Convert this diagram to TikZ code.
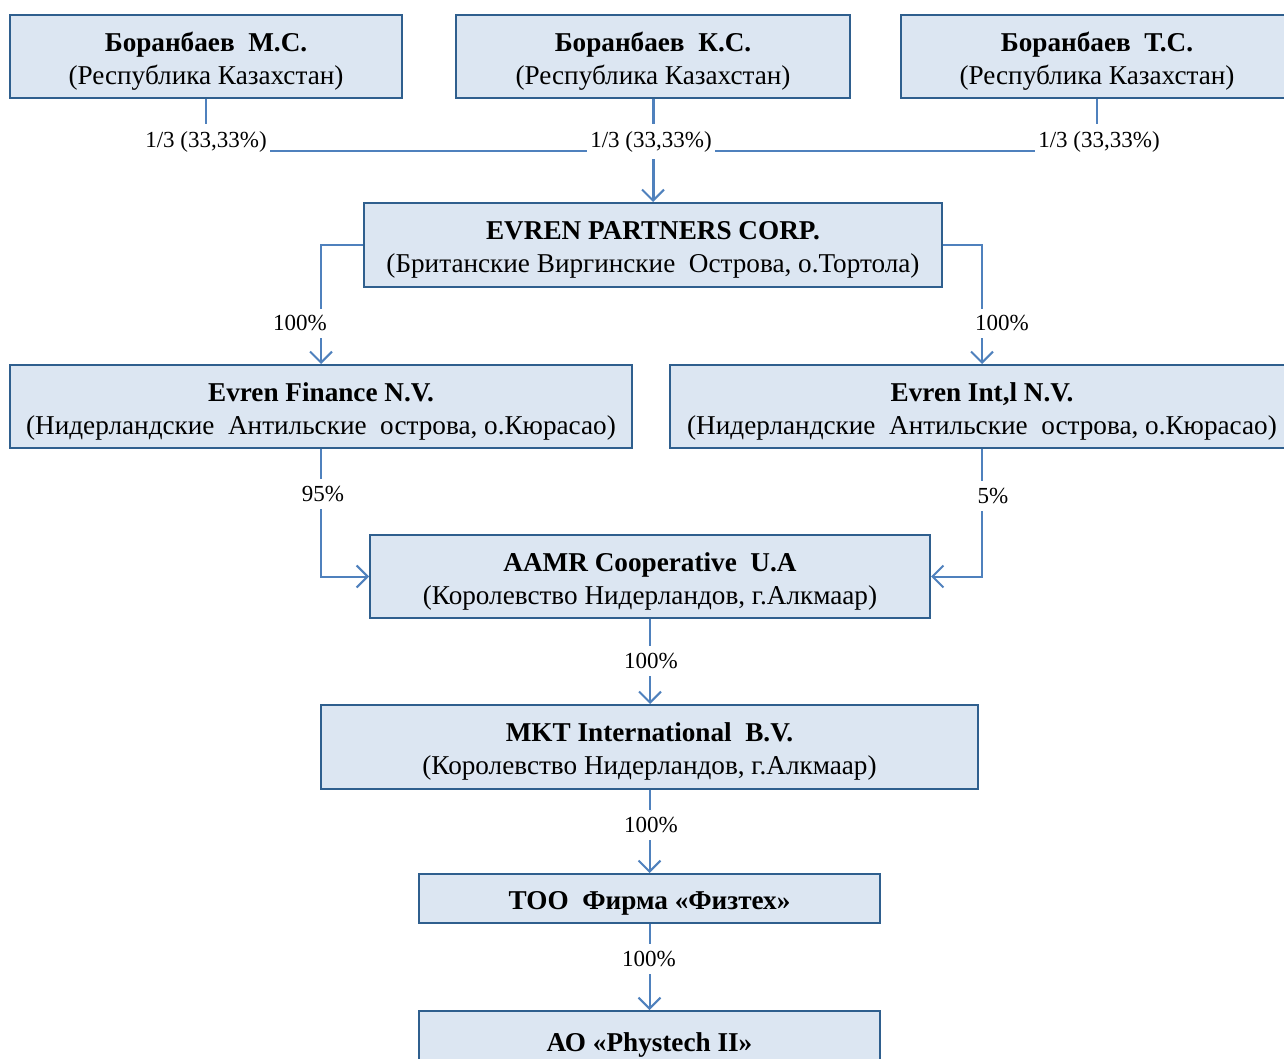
\documentclass[tikz,border=0pt]{standalone}
\usepackage{fontspec}
\setmainfont{Liberation Serif}
\usetikzlibrary{arrows.meta}
\definecolor{boxfill}{HTML}{DCE6F2}
\definecolor{boxline}{HTML}{2F5F8E}
\definecolor{connc}{HTML}{4F81BD}
\newcommand{\upstrut}{\rule{0pt}{28pt}}
\begin{document}
\begin{tikzpicture}[x=1pt,y=-1pt,
  orgbox/.style={draw=boxline, line width=2pt, fill=boxfill, rectangle, align=center,
    inner sep=0pt, font=\fontsize{27.2}{33}\selectfont},
  conn/.style={draw=connc, line width=2pt},
  arr/.style={conn, -{Straight Barb[length=11pt,width=22pt,line width=2pt]}},
  pct/.style={fill=white, inner xsep=3pt, inner ysep=7pt, font=\fontsize{23}{26}\selectfont}
]
\useasboundingbox (0,0) rectangle (1284,1059);
\clip (0,0) rectangle (1284,1059);
\fill[white] (0,0) rectangle (1284,1059);

% boxes
\node[orgbox, minimum width=392pt, minimum height=83pt] (ms) at (206,56.5) {\upstrut\textbf{Боранбаев\ \ М.С.}\\(Республика Казахстан)};
\node[orgbox, minimum width=394pt, minimum height=83pt] (ks) at (653,56.5) {\upstrut\textbf{Боранбаев\ \ К.С.}\\(Республика Казахстан)};
\node[orgbox, minimum width=392pt, minimum height=83pt] (ts) at (1097,56.5) {\upstrut\textbf{Боранбаев\ \ Т.С.}\\(Республика Казахстан)};
\node[orgbox, minimum width=578pt, minimum height=84pt] (ev) at (653,245) {\upstrut\textbf{EVREN PARTNERS CORP.}\\(Британские Виргинские\ \ Острова, о.Тортола)};
\node[orgbox, minimum width=622pt, minimum height=83pt] (fin) at (321,406.5) {\upstrut\textbf{Evren Finance N.V.}\\(Нидерландские\ \ Антильские\ \ острова, о.Кюрасао)};
\node[orgbox, minimum width=624pt, minimum height=83pt] (intl) at (982,406.5) {\upstrut\textbf{Evren Int,l N.V.}\\(Нидерландские\ \ Антильские\ \ острова, о.Кюрасао)};
\node[orgbox, minimum width=560pt, minimum height=83pt] (aamr) at (650,576.5) {\upstrut\textbf{AAMR Cooperative\ \ U.A}\\(Королевство Нидерландов, г.Алкмаар)};
\node[orgbox, minimum width=657pt, minimum height=84pt] (mkt) at (649.5,747) {\upstrut\textbf{MKT International\ \ B.V.}\\(Королевство Нидерландов, г.Алкмаар)};
\node[orgbox, minimum width=461pt, minimum height=49pt] (too) at (649.5,898.5) {\upstrut\textbf{ТОО\ \ Фирма «Физтех»}};
\node[orgbox, minimum width=461pt, minimum height=58pt] (ao) at (649.5,1040) {\upstrut\textbf{АО «Phystech II»}};

% connectors
\coordinate (j) at (653,151);
\draw[conn] (ms.south) |- (j);
\draw[conn] (ts.south) |- (j);
\draw[arr, line width=3pt] (ks.south) -- (ev.north);
\draw[arr] (ev.west) -| (fin.north);
\draw[arr] (ev.east) -| (intl.north);
\draw[arr] (fin.south) |- (aamr.west);
\draw[arr] (intl.south) |- (aamr.east);
\draw[arr] (aamr.south) -- (aamr.south |- mkt.north);
\draw[arr] (mkt.south) -- (mkt.south |- too.north);
\draw[arr] (too.south) -- (too.south |- ao.north);

% labels
\node[pct] (l1) at (206,141.5) {1/3 (33,33\%)};
\node[pct] (l2) at (651,141.5) {1/3 (33,33\%)};
\node[pct] (l3) at (1099,141.5) {1/3 (33,33\%)};
\node[pct] (l4) at (300,323.5) {100\%};
\node[pct] (l5) at (1002,323.5) {100\%};
\node[pct] (l6) at (323,494) {95\%};
\node[pct] (l7) at (993,496) {5\%};
\node[pct] (l8) at (651,661) {100\%};
\node[pct] (l9) at (651,825) {100\%};
\node[pct] (l10) at (649,959) {100\%};
\end{tikzpicture}
\end{document}
